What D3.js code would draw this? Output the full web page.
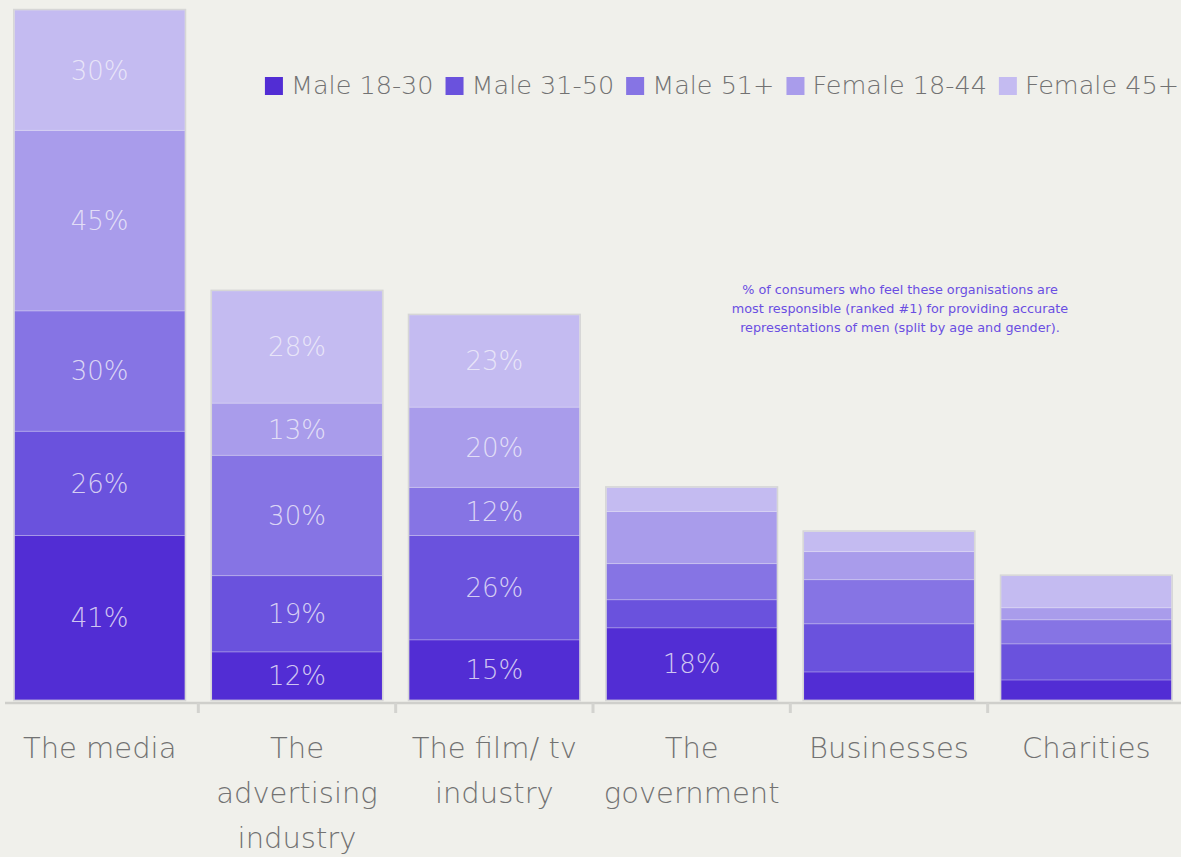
<!DOCTYPE html>
<html>
<head>
<meta charset="utf-8">
<script src="https://cdn.jsdelivr.net/npm/d3@7"></script>
<style>
  html, body { margin: 0; padding: 0; background: #f0f0eb; }
  svg { display: block; }
</style>
</head>
<body>
<svg id="chart" width="1181" height="857"></svg>
<script>
// Organisations asked about
const categories = [
  "The media",
  "The advertising industry",
  "The film/ tv industry",
  "The government",
  "Businesses",
  "Charities"
];

// Share (%) of each group ranking the organisation #1
const male1830   = [41, 12, 15, 18, 7, 5];
const male3150   = [26, 19, 26, 7, 12, 9];
const male51     = [30, 30, 12, 9, 11, 6];
const female1844 = [45, 13, 20, 13, 7, 3];
const female45   = [30, 28, 23, 6, 5, 8];

const seriesNames = ["Male 18-30", "Male 31-50", "Male 51+", "Female 18-44", "Female 45+"];
const seriesValues = [male1830, male3150, male51, female1844, female45];
const seriesColors = ["#522dd4", "#6a52dd", "#8674e4", "#a99ceb", "#c4bbf1"];

// Segments that carry a value label: [series index, category]
const labelledCells = [
  [0, "The media"], [1, "The media"], [2, "The media"], [3, "The media"], [4, "The media"],
  [0, "The advertising industry"], [1, "The advertising industry"], [2, "The advertising industry"],
  [3, "The advertising industry"], [4, "The advertising industry"],
  [0, "The film/ tv industry"], [1, "The film/ tv industry"], [2, "The film/ tv industry"],
  [3, "The film/ tv industry"], [4, "The film/ tv industry"],
  [0, "The government"]
];

const noteLines = [
  "% of consumers who feel these organisations are",
  "most responsible (ranked #1) for providing accurate",
  "representations of men (split by age and gender)."
];

const keys = seriesNames;
const rows = categories.map((c, i) => {
  const r = { category: c };
  keys.forEach((k, j) => r[k] = seriesValues[j][i]);
  return r;
});

const svg = d3.select("#chart");
const baseY = 700;
const FONT = "'DejaVu Sans', 'Lato', sans-serif";

const x = d3.scaleBand()
  .domain(categories)
  .range([1, 1185])
  .paddingInner(0.135)
  .paddingOuter(0.0675);

const y = d3.scaleLinear().domain([0, 172]).range([baseY, 10]);

const color = d3.scaleOrdinal().domain(keys).range(seriesColors);

const stacked = d3.stack().keys(keys)(rows);

// Stacked segments
const layers = svg.append("g").selectAll("g")
  .data(stacked)
  .join("g")
  .attr("fill", d => color(d.key));

layers.selectAll("rect")
  .data(d => d.map(p => ({ key: d.key, p })))
  .join("rect")
  .attr("x", d => x(d.p.data.category))
  .attr("y", d => y(d.p[1]))
  .attr("width", x.bandwidth())
  .attr("height", d => y(d.p[0]) - y(d.p[1]))
  .attr("stroke", "rgba(255,255,255,0.22)")
  .attr("stroke-width", 1);

// Thin grey outline around each whole bar
const totals = rows.map(r => d3.sum(keys, k => r[k]));
svg.append("g").selectAll("rect")
  .data(categories)
  .join("rect")
  .attr("x", c => x(c) - 0.5)
  .attr("y", (c, i) => y(totals[i]) - 0.5)
  .attr("width", x.bandwidth() + 1)
  .attr("height", (c, i) => baseY - y(totals[i]) + 1)
  .attr("fill", "none")
  .attr("stroke", "#d6d6d6")
  .attr("stroke-width", 1.5);

// Value labels
const labelled = new Set(labelledCells.map(([s, c]) => s + "|" + c));
const labelData = [];
stacked.forEach((layer, s) => {
  layer.forEach(p => {
    if (labelled.has(s + "|" + p.data.category)) labelData.push({ p, v: p[1] - p[0] });
  });
});
svg.append("g").selectAll("text")
  .data(labelData)
  .join("text")
  .attr("x", d => x(d.p.data.category) + x.bandwidth() / 2)
  .attr("y", d => (y(d.p[0]) + y(d.p[1])) / 2)
  .attr("dy", "0.36em")
  .attr("text-anchor", "middle")
  .attr("font-family", FONT)
  .attr("font-weight", 200)
  .attr("font-size", 26)
  .attr("fill", "#f2f0fa")
  .attr("fill-opacity", 0.8)
  .text(d => d.v + "%");

// Axis line with ticks at the category boundaries
const axisG = svg.append("g");
axisG.append("line")
  .attr("x1", 5).attr("x2", 1181)
  .attr("y1", baseY + 3).attr("y2", baseY + 3)
  .attr("stroke", "#cfcfcb").attr("stroke-width", 2.5);
const bounds = d3.range(1, categories.length).map(i => x.range()[0] + i * x.step());
axisG.selectAll("line.tick")
  .data(bounds)
  .join("line")
  .attr("class", "tick")
  .attr("x1", d => d).attr("x2", d => d)
  .attr("y1", baseY + 3).attr("y2", baseY + 13)
  .attr("stroke", "#d3d3cf").attr("stroke-width", 3);

// Category labels, wrapped to the band width
const catG = svg.append("g");
categories.forEach(c => {
  const t = catG.append("text")
    .attr("x", x(c) + x.bandwidth() / 2)
    .attr("y", 758)
    .attr("text-anchor", "middle")
    .attr("font-family", FONT)
    .attr("font-weight", 200)
    .attr("font-size", 29)
    .attr("fill", "#727272");
  const words = c.split(" ");
  let line = [];
  let ts = t.append("tspan").attr("x", x(c) + x.bandwidth() / 2).attr("dy", 0);
  words.forEach(w => {
    line.push(w);
    ts.text(line.join(" "));
    if (ts.node().getComputedTextLength() > x.step() - 6 && line.length > 1) {
      line.pop();
      ts.text(line.join(" "));
      line = [w];
      ts = t.append("tspan").attr("x", x(c) + x.bandwidth() / 2).attr("dy", 45).text(w);
    }
  });
});

// Legend, laid out left to right and kept inside the right edge
const legend = svg.append("g");
let lx = 0;
keys.forEach(k => {
  legend.append("rect")
    .attr("x", lx).attr("y", 77)
    .attr("width", 18).attr("height", 18)
    .attr("fill", color(k));
  const t = legend.append("text")
    .attr("x", lx + 26).attr("y", 94)
    .attr("font-family", FONT)
    .attr("font-weight", 200)
    .attr("font-size", 25.5)
    .attr("fill", "#727272")
    .text(k);
  lx += 26 + t.node().getComputedTextLength() + 12;
});
const legendWidth = lx - 12;
legend.attr("transform", `translate(${Math.min(265, 1179 - legendWidth)},0)`);

// Explanatory note
svg.append("g").selectAll("text")
  .data(noteLines)
  .join("text")
  .attr("x", 900)
  .attr("y", (d, i) => 294 + i * 19)
  .attr("text-anchor", "middle")
  .attr("font-family", FONT)
  .attr("font-size", 12.8)
  .attr("fill", "#6a4ee2")
  .text(d => d);
</script>
</body>
</html>
